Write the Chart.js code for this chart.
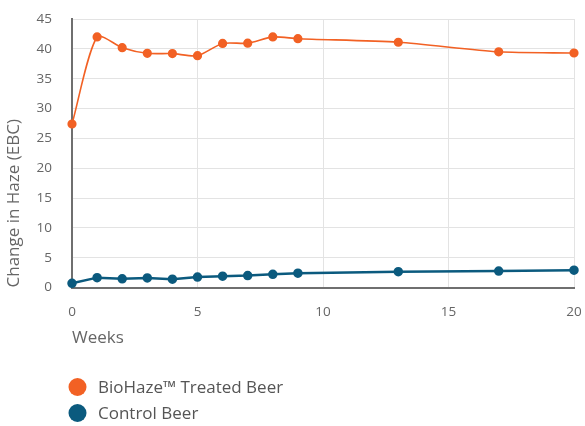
<!DOCTYPE html>
<html>
<head>
<meta charset="utf-8">
<script src="https://cdn.jsdelivr.net/npm/chart.js@4"></script>
<style>
html,body{margin:0;padding:0;background:#fff;}
#wrap{width:585px;height:426px;}
</style>
</head>
<body>
<div id="wrap"><canvas id="c" width="585" height="426"></canvas></div>
<script>
const weeks = [0, 1, 2, 3, 4, 5, 6, 7, 8, 9, 13, 17, 20];
const treated = [27.4, 42.0, 40.2, 39.25, 39.2, 38.85, 40.9, 40.95, 42.0, 41.7, 41.1, 39.5, 39.3];
const control = [0.7, 1.65, 1.45, 1.6, 1.4, 1.75, 1.9, 2.0, 2.2, 2.4, 2.65, 2.75, 2.9];
const seriesLabels = ['BioHaze™ Treated Beer', 'Control Beer'];
const seriesColors = ['#F26124', '#0B5A7E'];
const yTicks = [0, 5, 10, 15, 20, 25, 30, 35, 40, 45];
const xTicks = [0, 5, 10, 15, 20];

const FONT = '"Open Sans", "Noto Sans", sans-serif';

const legendPlugin = {
  id: 'customLegend',
  afterDraw(chart) {
    const ctx = chart.ctx;
    ctx.save();
    ctx.font = '17px ' + FONT;
    ctx.textBaseline = 'middle';
    ctx.textAlign = 'left';
    chart.data.datasets.forEach((ds, i) => {
      const cy = 387 + i * 26;
      ctx.beginPath();
      ctx.fillStyle = ds.borderColor;
      ctx.arc(77.5, cy, 9, 0, Math.PI * 2);
      ctx.fill();
      ctx.fillStyle = '#555';
      ctx.fillText(ds.label, 98, cy + 1);
    });
    ctx.restore();
  }
};

new Chart(document.getElementById('c'), {
  type: 'line',
  data: {
    datasets: [
      {
        label: seriesLabels[0],
        data: weeks.map((w, i) => ({x: w, y: treated[i]})),
        borderColor: seriesColors[0],
        backgroundColor: seriesColors[0],
        borderWidth: 1.6,
        pointRadius: 3.8,
        pointHoverRadius: 4,
        tension: 0.25
      },
      {
        label: seriesLabels[1],
        data: weeks.map((w, i) => ({x: w, y: control[i]})),
        borderColor: seriesColors[1],
        backgroundColor: seriesColors[1],
        borderWidth: 2.5,
        pointRadius: 3.5,
        pointHoverRadius: 4,
        tension: 0
      }
    ]
  },
  options: {
    responsive: false,
    animation: false,
    clip: false,
    layout: {padding: {left: 0, right: 0, top: 0, bottom: 62}},
    plugins: {
      legend: {display: false},
      tooltip: {enabled: false}
    },
    scales: {
      x: {
        type: 'linear',
        min: 0,
        max: 20,
        afterBuildTicks: (s) => { s.ticks = xTicks.map(v => ({value: v})); },
        afterFit: (s) => { s.height = 76.5; s.paddingRight = 11; s.paddingLeft = 0; },
        grid: {color: '#e3e3e3', drawTicks: false, lineWidth: 1},
        border: {color: '#6f6f6f', width: 2},
        ticks: {color: '#666', font: {size: 13.5, family: FONT}, padding: 17},
        title: {display: true, text: 'Weeks', align: 'start', color: '#666', font: {size: 17, family: FONT}, padding: {top: 4, bottom: 16}}
      },
      y: {
        min: 0,
        max: 45,
        afterBuildTicks: (s) => { s.ticks = yTicks.map(v => ({value: v})); },
        afterFit: (s) => { s.width = 72; s.paddingTop = 19; s.paddingBottom = 0; },
        grid: {color: '#e3e3e3', drawTicks: false, lineWidth: 1},
        border: {color: '#6f6f6f', width: 2},
        ticks: {color: '#666', font: {size: 13.5, family: FONT}, padding: 20},
        title: {display: true, text: 'Change in Haze (EBC)', align: 'start', color: '#666', font: {size: 17, family: FONT}, padding: {top: 4, bottom: 0}}
      }
    }
  },
  plugins: [legendPlugin]
});
</script>
</body>
</html>
